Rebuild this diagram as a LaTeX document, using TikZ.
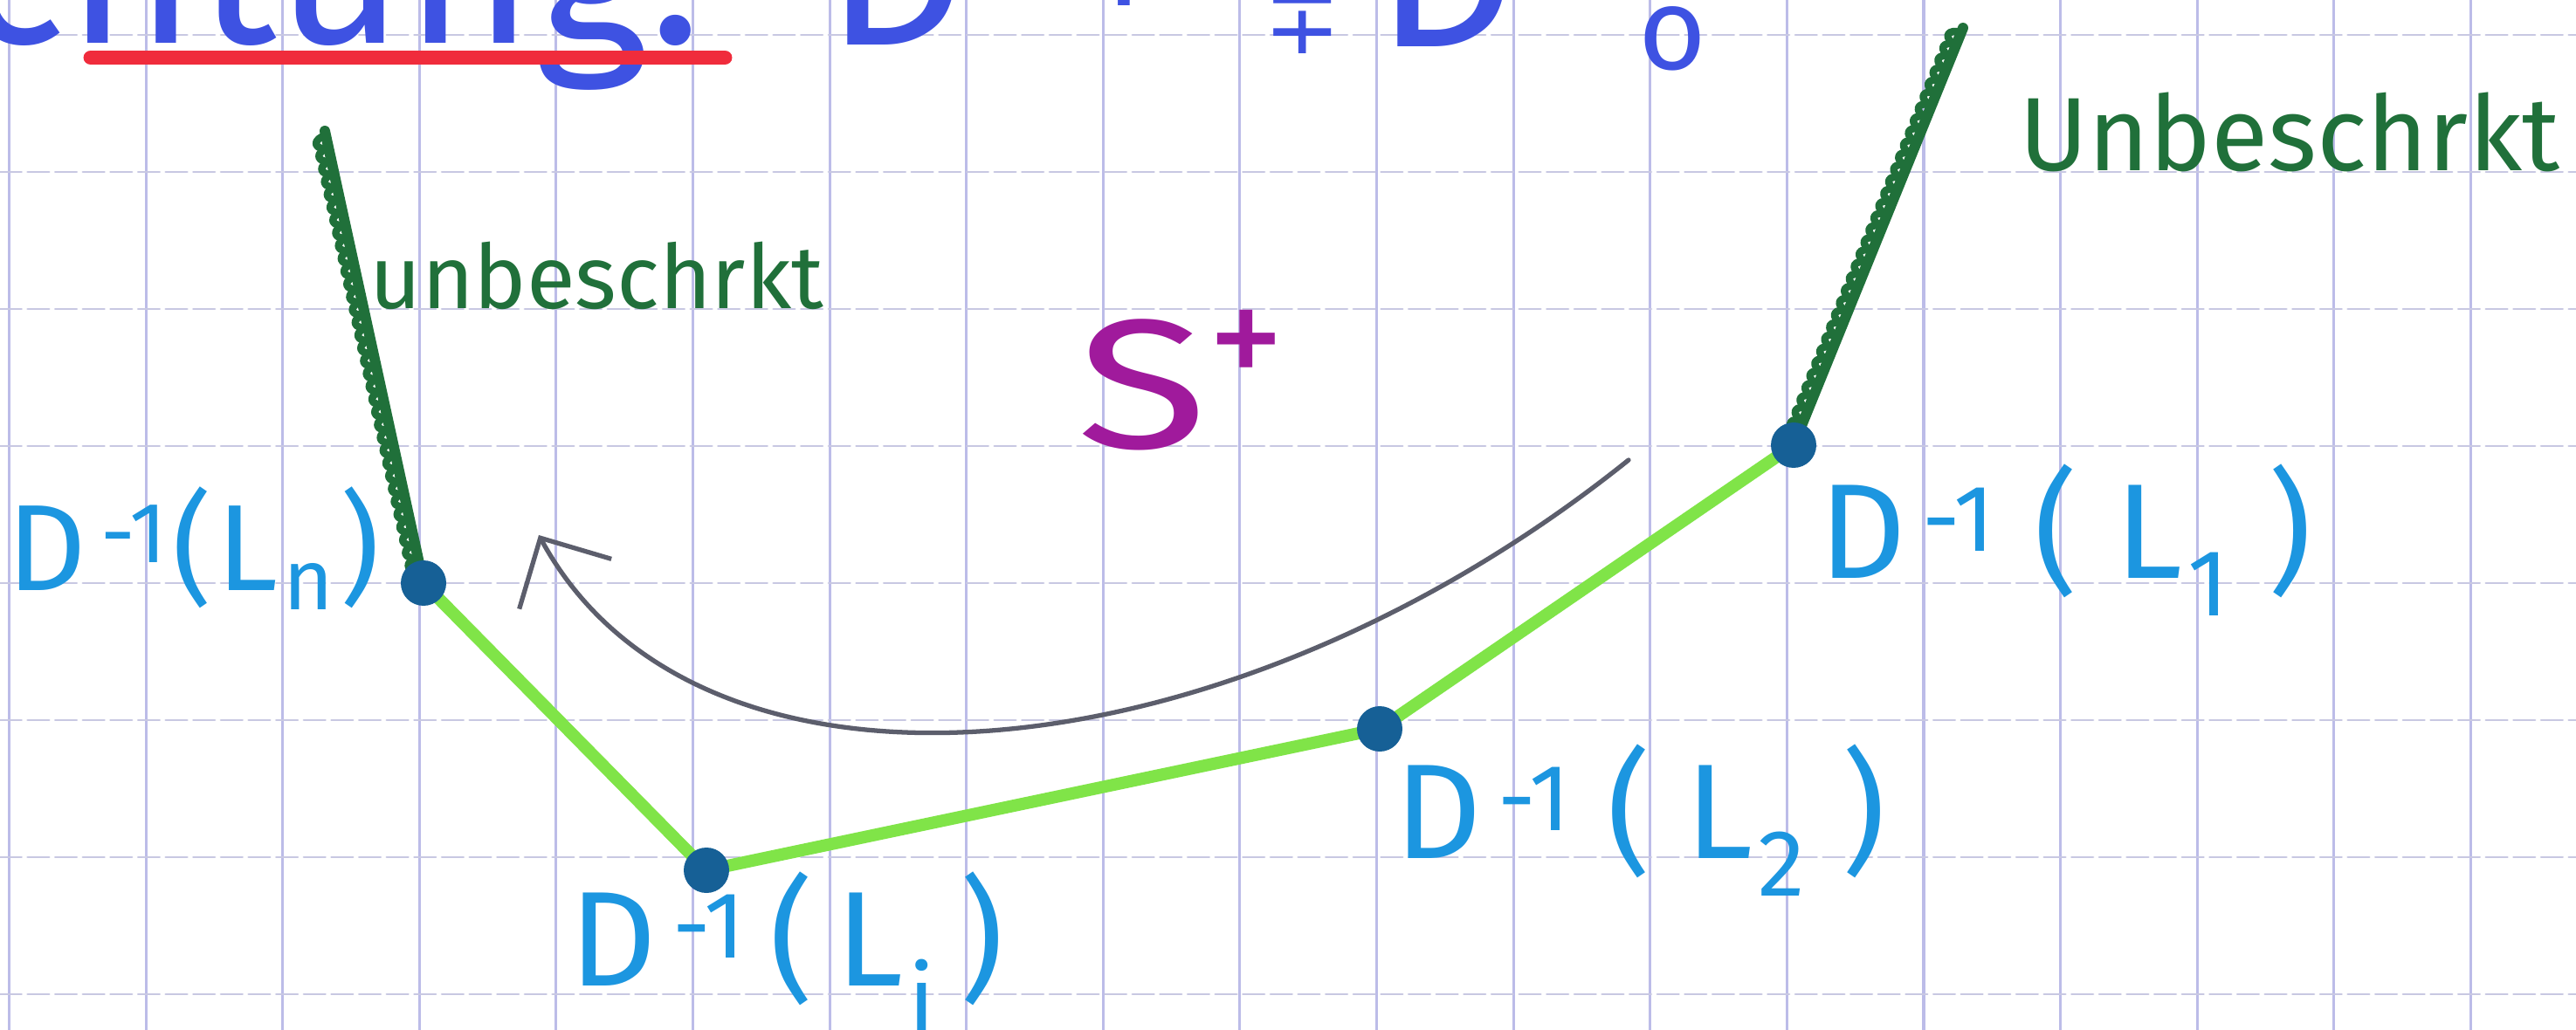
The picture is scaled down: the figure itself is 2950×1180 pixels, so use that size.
\documentclass[tikz,border=0pt]{standalone}
\usepackage{fontspec}
\setmainfont{Fira Sans}
\newfontfamily\symfont{DejaVu Sans}
\usetikzlibrary{arrows.meta,decorations.pathmorphing}

\definecolor{gridv}{RGB}{188,188,232}
\definecolor{gridh}{RGB}{200,200,226}
\definecolor{inkblue}{RGB}{62,82,226}
\definecolor{inkred}{RGB}{240,44,60}
\definecolor{lblblue}{RGB}{28,150,224}
\definecolor{hatchgreen}{RGB}{32,112,58}
\definecolor{polygreen}{RGB}{128,228,72}
\definecolor{dotblue}{RGB}{22,96,150}
\definecolor{arrowgray}{RGB}{92,94,108}
\definecolor{splusmag}{RGB}{160,26,156}

\newcommand{\Dinv}[2][.16em]{D\textsuperscript{\,-1}\kern#1(\kern#1L\kern.04em\textsubscript{#2}\kern#1)}

\begin{document}
\begin{tikzpicture}[x=0.1mm, y=-0.1mm, line cap=round, line join=round,
    dot/.style={circle, fill=dotblue, inner sep=0pt, minimum size=5.2mm},
    lbl/.style={text=lblblue, inner sep=0pt, font=\fontsize{44}{46}\selectfont},
    note/.style={text=hatchgreen, inner sep=0pt, font=\fontsize{29}{32}\selectfont},
    head/.style={text=inkblue, inner sep=0pt, font=\fontsize{72}{76}\selectfont},
    hatch/.style={draw=hatchgreen, line width=3.4pt,
      postaction={draw=hatchgreen, line width=2.4pt, decorate,
        decoration={bumps, segment length=3mm, amplitude=1.3mm}}}]
	\useasboundingbox (0,0) rectangle (2950,1180);
	\fill[white] (0,0) rectangle (2950,1180);
	% Karopapier
	\foreach \k in {0,...,18}
		\draw[gridv, line width=0.9pt] ({10.5+156.6*\k},0) -- ({10.5+156.6*\k},1180);
	\foreach \k in {0,...,7}
		\draw[gridh, line width=0.8pt, dash pattern=on 7pt off 2pt] (0,{40+157*\k}) -- (2950,{40+157*\k});
	% Ueberschrift (oben abgeschnitten)
	\node[head, anchor=base east] (rtg) at (805,50) {Richtung:};
	\draw[inkred, line width=4.8pt] (104,66) -- (830,66);
	\node[head, anchor=base west] (dirA) at (945,52) {D\hspace{.35em}\raisebox{13pt}{\fontsize{42}{44}\selectfont -1}};
	\node[head, anchor=base west, font=\fontsize{30}{32}\symfont] (dirB) at (1447,62) {∓};
	\node[head, anchor=base west] (dirC) at (1575,54) {D};
	\node[head, anchor=base west, font=\fontsize{38}{40}\selectfont] (dirD) at (1876,80) {\=o};
	% Ecken
	\coordinate (Ln) at (485,668);
	\coordinate (Li) at (809,997);
	\coordinate (L2) at (1580,835);
	\coordinate (L1) at (2054,510);
	\coordinate (topn) at (372,150);
	\coordinate (top1) at (2248,32);
	\draw[polygreen, line width=4pt] (Ln) -- (Li) -- (L2) -- (L1);
	\draw[hatch] (Ln) -- (topn);
	\draw[hatch] (L1) -- (top1);
	\foreach \p in {Ln,Li,L2,L1}
		\node[dot] (dot\p) at (\p) {};
	% Beschriftung
	\node[lbl, anchor=base east, font=\fontsize{40}{42}\selectfont] (labLn) at (436,676) {\Dinv[.04em]{n}};
	\node[lbl, anchor=base west] (labLi) at (652,1129) {\Dinv[.17em]{i}};
	\node[lbl, anchor=base west] (labL2) at (1597,983) {\Dinv[.26em]{2}};
	\node[lbl, anchor=base west] (labL1) at (2083,663) {\Dinv[.28em]{1}};
	\node[note, anchor=base west] (ubn) at (423,354) {unbeschrkt};
	\node[note, anchor=base west, font=\fontsize{34}{36}\selectfont] (ub1) at (2312,196) {Unbeschrkt};
	\node[text=splusmag, inner sep=0pt, anchor=base west, font=\fontsize{60}{62}\selectfont] (splus) at (1233,513)
		{\scalebox{1.3}[1]{S}\raisebox{19pt}{\fontsize{50}{52}\selectfont +}};
	% Pfeil
	\coordinate (arrS) at (1865,527);
	\coordinate (arrE) at (617,613);
	\draw[arrowgray, line width=1.5pt, -{Straight Barb[length=6mm, width=12mm]}] (arrS) .. controls (1400,900) and (800,950) .. (arrE);
\end{tikzpicture}
\end{document}
